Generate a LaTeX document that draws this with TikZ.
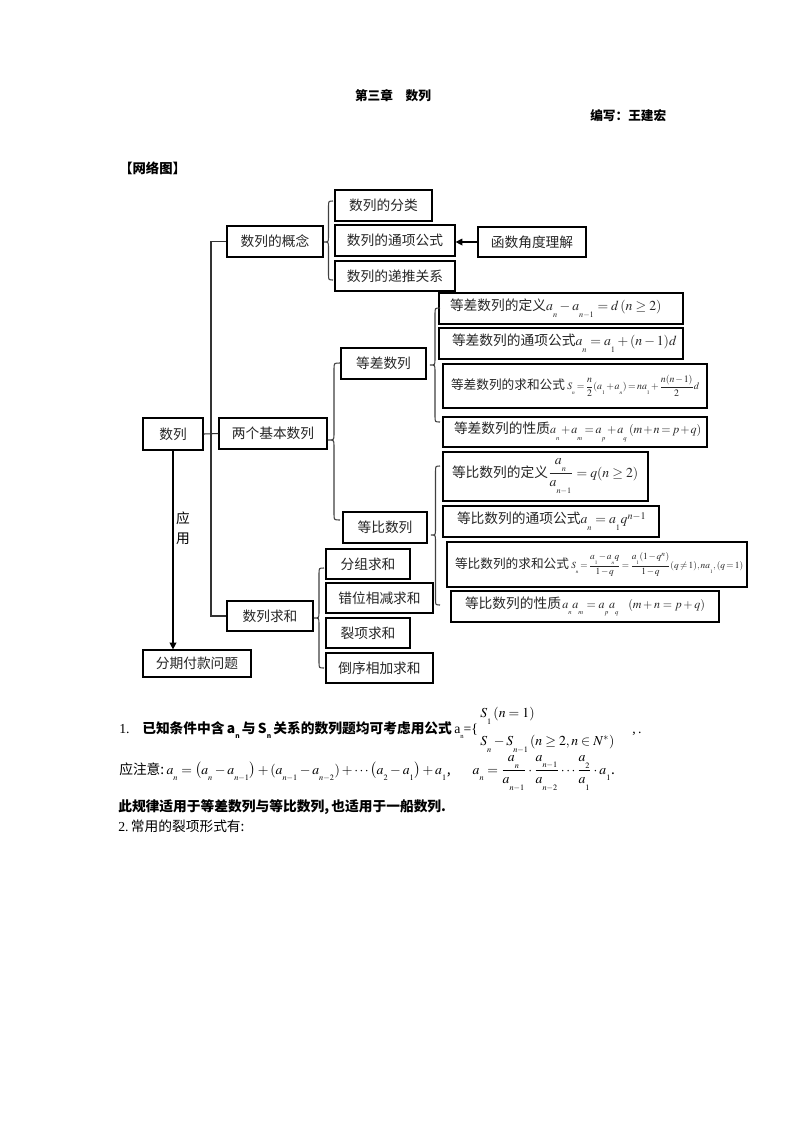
\documentclass[tikz,border=0pt]{standalone}
\usepackage{mathptmx}
\usepackage{amsmath}
\usepackage{graphicx}
\usepackage[no-math]{fontspec}
\setmainfont{Noto Sans CJK SC}
\newfontfamily\lat{Liberation Serif}
\usetikzlibrary{arrows.meta}
\newdimen\px \px=0.75pt
\newcommand\lo[1]{_{\raisebox{-3.5pt}{$\scriptscriptstyle #1$}}}
\newcommand\sbt[1]{\raisebox{-4pt}{\tiny #1}}
\newcommand\fs{\fontsize{10.3pt}{12pt}\selectfont}
\newcommand\fc{\fontsize{9.5pt}{11pt}\selectfont}
\newcommand\fm{\fontsize{9pt}{11pt}\selectfont}
\newcommand\tight{\thickmuskip=2.5mu\medmuskip=1.5mu}
\newcommand\cbox[6]{%
  \pgfmathsetmacro\bw{(#4-#2)*0.75}%
  \pgfmathsetmacro\bh{(#5-#3)*0.75}%
  \node[box,minimum width=\bw pt,minimum height=\bh pt] (#1) at ({(#2+#4)/2},{(#3+#5)/2}) {#6};}
\newcommand\lbox[7]{%
  \pgfmathsetmacro\tw{(#4-#2-2*#6)*0.75}%
  \pgfmathsetmacro\bh{(#5-#3)*0.75}%
  \pgfmathsetmacro\ps{#6*0.75}%
  \node[box,text width=\tw pt,inner xsep=\ps pt,align=left,minimum height=\bh pt] (#1) at ({(#2+#4)/2},{(#3+#5)/2}) {\mbox{#7}};}
\newcommand\brc[5]{%
  \draw[bracel] (#2,#3) .. controls ({(#1+#2)/2},#3) .. ({(#1+#2)/2},{#3+6}) -- ({(#1+#2)/2},{#4-6}) .. controls ({(#1+#2)/2},#4) .. (#1,#4) .. controls ({(#1+#2)/2},#4) .. ({(#1+#2)/2},{#4+6}) -- ({(#1+#2)/2},{#5-6}) .. controls ({(#1+#2)/2},#5) .. (#2,#5);}
\tikzset{
  box/.style={draw, line width=0.9pt, inner ysep=0pt, inner xsep=0pt, font=\fs, text=black!85},
  bracel/.style={line width=0.8pt, black!75},
  conn/.style={line width=0.8pt, black!80},
  arr/.style={line width=0.9pt, -{Triangle[length=5pt,width=5pt]}},
  head/.style={font=\fontsize{9.5pt}{11pt}\selectfont\bfseries, inner sep=0pt},
  txt/.style={font=\fs, inner sep=0pt, anchor=base west}
}
\begin{document}
\begin{tikzpicture}[x=0.75pt,y=-0.75pt]
\fill[white] (0,0) rectangle (793,1122);
\useasboundingbox (0,0) rectangle (793,1122);

% headings
\node[head] (title) at (393,96) {第三章\hspace{1em}数列};
\node[head,anchor=west] (author) at (590,116) {编写：王建宏};
\node[head,anchor=west,font=\fontsize{10pt}{12pt}\selectfont\bfseries] (net) at (119,168) {【网络图】};

% concept boxes
\cbox{gl}{227}{226}{323}{257}{数列的概念}
\cbox{fl}{335}{190}{432}{221}{数列的分类}
\cbox{tx}{335}{225}{455}{256}{数列的通项公式}
\cbox{dt}{335}{261}{455}{291}{数列的递推关系}
\cbox{hs}{478}{227}{586}{257}{函数角度理解}
\cbox{sl}{143}{418}{203}{450}{数列}
\cbox{lg}{219}{418}{327}{449}{两个基本数列}
\cbox{dc}{341}{348}{426}{379}{等差数列}
\cbox{db}{343}{512}{427}{543}{等比数列}
\cbox{qh}{227}{601}{313}{631}{数列求和}
\cbox{fz}{326}{549}{410}{579}{分组求和}
\cbox{cw}{326}{583}{433}{613}{错位相减求和}
\cbox{lx}{326}{618}{410}{648}{裂项求和}
\cbox{dx}{326}{653}{433}{683}{倒序相加求和}
\cbox{fq}{143}{650}{251}{677}{分期付款问题}

% formula boxes
\lbox{d1}{439}{293}{683}{324}{11}{等差数列的定义$a\lo{n}-a\lo{n-1}=d\,(n\ge 2)$}
\lbox{d2}{439}{328}{683}{359}{13}{等差数列的通项公式$a\lo{n}=a\lo{1}+(n-1)d$}
\lbox{d3}{443}{364}{707}{408}{8}{{\fc 等差数列的求和公式}\,\resizebox{132\px}{!}{\fm$\tight S\lo{n}=\dfrac{n}{2}(a\lo{1}+a\lo{n})=na\lo{1}+\dfrac{n(n-1)}{2}d$}}
\lbox{d4}{443}{417}{707}{447}{11}{等差数列的性质{\fm$\tight a\lo{n}+a\lo{m}=a\lo{p}+a\lo{q}\;(m+n=p+q)$}}
\lbox{b1}{443}{452}{648}{501}{9}{等比数列的定义$\dfrac{a\lo{n}}{a\lo{n-1}}=q(n\ge 2)$}
\lbox{b2}{443}{506}{659}{537}{14}{等比数列的通项公式$a\lo{n}=a\lo{1}q^{n-1}$}
\lbox{b3}{447}{542}{747}{587}{8}{{\fc 等比数列的求和公式}\,\resizebox{172\px}{!}{\fm$\tight S\lo{n}=\dfrac{a\lo{1}-a\lo{n}q}{1-q}=\dfrac{a\lo{1}(1-q^{n})}{1-q}(q\ne 1),na\lo{1},(q=1)$}}
\lbox{b4}{451}{591}{719}{622}{14}{等比数列的性质{\fm$\,a\lo{n}a\lo{m}=a\lo{p}a\lo{q}\ \ (m+n=p+q)$}}

% braces
\brc{324}{333}{201}{242}{280}
\brc{328}{340}{363}{440}{520}
\brc{430}{440}{308}{365}{422}
\brc{431}{440}{466}{535}{605}
\brc{314}{324}{568}{618}{668}

% connectors
\coordinate (vt) at (211,241.5);
\draw[conn] (gl.west) -- (vt) |- (qh.west);
\draw[conn] (sl.east) -- (lg.west);
\draw[arr] (hs.west) -- (hs.west -| tx.east);
\draw[arr] (sl.south) -- (sl.south |- fq.north);
\node[font=\fs, align=center, inner sep=0pt] (yy) at (183,528) {应\\[3pt]用};

% text below
\node[txt] (n1) at (119,733) {\lat 1.};
\node[txt] (t1) at (142,733) {{\bfseries 已知条件中含\,a\sbt{n}\,与\,S\sbt{n}\,关系的数列题均可考虑用公式}\,{\lat a\sbt{n}=\{}\,$\begin{array}{@{}l@{}}S\lo{1}\,(n=1)\\[9pt] S\lo{n}-S\lo{n-1}\,(n\ge 2,n\in N^{*})\end{array}$\hspace{1.3em}{\lat ,\,.}};
\node[txt] (t2) at (119,774) {应注意:\,$a\lo{n}=\big(a\lo{n}-a\lo{n-1}\big)+(a\lo{n-1}-a\lo{n-2})+\cdots\big(a\lo{2}-a\lo{1}\big)+a\lo{1}$,\hspace{1.6em}$a\lo{n}=\dfrac{a\lo{n}}{a\lo{n-1}}\cdot\dfrac{a\lo{n-1}}{a\lo{n-2}}\cdots\dfrac{a\lo{2}}{a\lo{1}}\cdot a\lo{1}$.};
\node[txt,font=\fs\bfseries] (t3) at (118,811) {此规律适用于等差数列与等比数列,\,也适用于一船数列.};
\node[txt] (t4) at (118,831) {{\lat 2.}\,常用的裂项形式有:};
\end{tikzpicture}
\end{document}
